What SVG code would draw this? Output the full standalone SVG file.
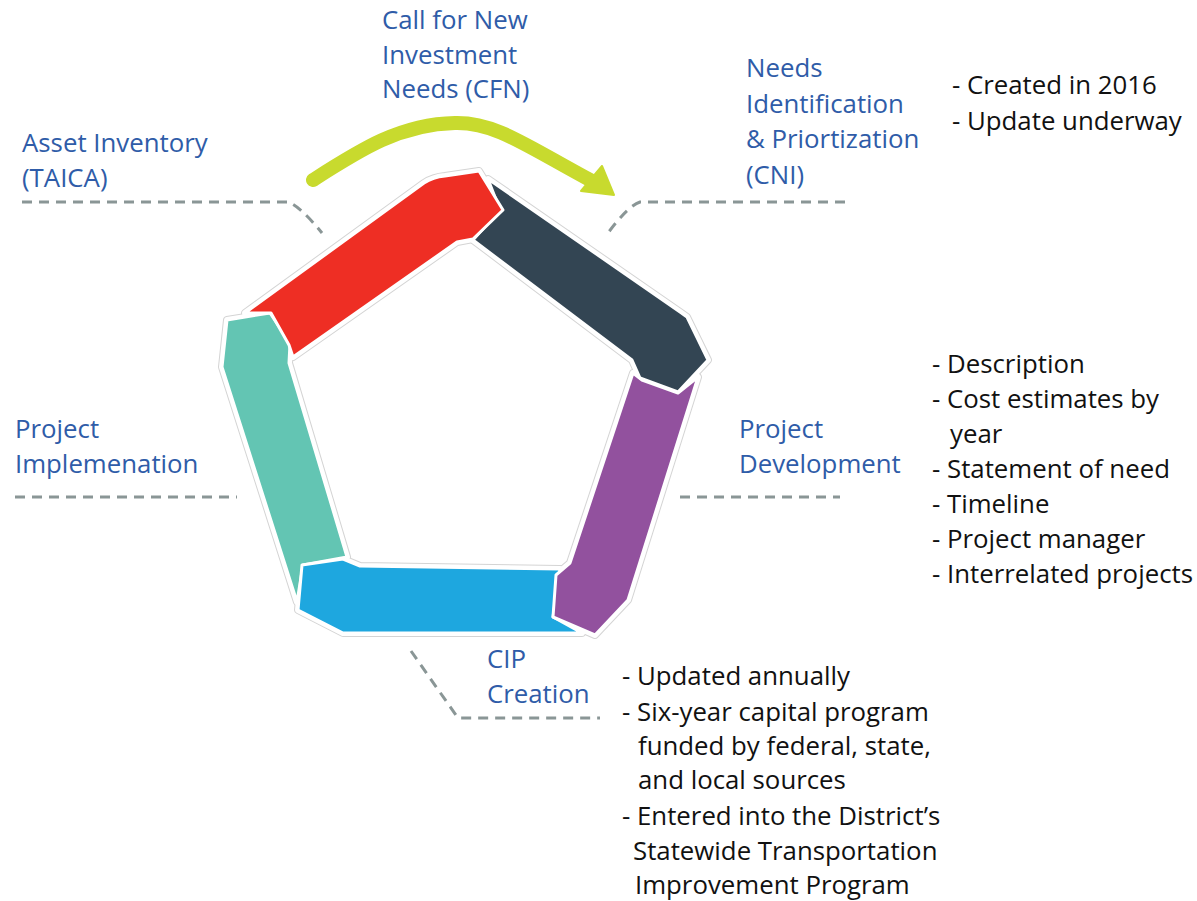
<svg xmlns="http://www.w3.org/2000/svg" width="1197" height="901" viewBox="0 0 1197 901">
<style>
.lbl{font-family:"Open Sans","Liberation Sans",sans-serif;font-size:25.8px;fill:#2f5ca8}
.txt{font-family:"Open Sans","Liberation Sans",sans-serif;font-size:25.8px;fill:#111}
.lead{fill:none;stroke:#8a9696;stroke-width:3;stroke-dasharray:10 7}
.halo{fill:none;stroke:#d4d4d4;stroke-width:8;stroke-linejoin:round}
.gap{fill:none;stroke:#fff;stroke-width:6;stroke-linejoin:round}
.seg{stroke:#fff;stroke-width:3;stroke-linejoin:round}
</style>
<defs>
<polygon id="pTeal" points="227,320 270,313 290,343 289,363 347,557 303,565 297,602 222,367"/>
<polygon id="pBlue" points="302,565 343,559 360,566 560,569 553,617 582,633 343,633 298,610"/>
<polygon id="pPurple" points="633,373 642,380 678,393 698,377 628,600 595,635 553,617 556,575 570,563"/>
<polygon id="pDark" points="488,179 680,312 687,317 708,360 678,392 640,378 632,360 473,240 500,210"/>
<path id="pRed" d="M245,313 L424,183 Q433,177 445,176 L479,171 L503,210 L473,239 L457,242 L293,357 L289,345 L271,313 Z"/>
</defs>
<rect width="1197" height="901" fill="#fff"/>
<g id="connectors">
<path class="lead" d="M22,202 L288,202 Q300,206 322,233"/>
<path class="lead" d="M845,202 L640,202 Q628,206 608,233"/>
<path class="lead" d="M15,497 L237,497"/>
<path class="lead" d="M680,497 L840,497"/>
<path class="lead" d="M411,651 L458,718 L600,718"/>
<path d="M313,180 C360,150 400,124 455,123 C495,122 525,145 592,181" fill="none" stroke="#c8da2e" stroke-width="14" stroke-linecap="round"/>
<polygon points="614,195 602,166 581,191" fill="#c8da2e" stroke="#c8da2e" stroke-width="2" stroke-linejoin="round"/>
</g>
<g id="ring-halo">
<use href="#pTeal" class="halo"/><use href="#pBlue" class="halo"/><use href="#pPurple" class="halo"/><use href="#pDark" class="halo"/><use href="#pRed" class="halo"/>
<use href="#pTeal" class="gap"/><use href="#pBlue" class="gap"/><use href="#pPurple" class="gap"/><use href="#pDark" class="gap"/><use href="#pRed" class="gap"/>
</g>
<g id="seg-teal"><use href="#pTeal" class="seg" fill="#63c5b3"/></g>
<g id="seg-blue"><use href="#pBlue" class="seg" fill="#1ea7df"/></g>
<g id="seg-purple"><use href="#pPurple" class="seg" fill="#92519e"/></g>
<g id="seg-dark"><use href="#pDark" class="seg" fill="#334553"/></g>
<g id="seg-red"><use href="#pRed" class="seg" fill="#ee2e24"/></g>
<g id="node-cfn" class="lbl"><text x="382" y="29">Call for New</text><text x="382" y="63.5">Investment</text><text x="382" y="98">Needs (CFN)</text></g>
<g id="node-asset" class="lbl"><text x="22" y="152">Asset Inventory</text><text x="22" y="186.5">(TAICA)</text></g>
<g id="node-cni" class="lbl"><text x="746" y="77">Needs</text><text x="746" y="112.5">Identification</text><text x="746" y="148">&amp; Priortization</text><text x="746" y="183.5">(CNI)</text></g>
<g id="note-cni" class="txt"><text x="952" y="94">- Created in 2016</text><text x="952" y="130">- Update underway</text></g>
<g id="node-impl" class="lbl"><text x="15" y="438">Project</text><text x="15" y="473">Implemenation</text></g>
<g id="node-dev" class="lbl"><text x="739" y="438">Project</text><text x="739" y="473">Development</text></g>
<g id="note-dev" class="txt"><text x="932" y="373">- Description</text><text x="932" y="408">- Cost estimates by</text><text x="950" y="443">year</text><text x="932" y="478">- Statement of need</text><text x="932" y="513">- Timeline</text><text x="932" y="548">- Project manager</text><text x="932" y="583">- Interrelated projects</text></g>
<g id="node-cip" class="lbl"><text x="487" y="668">CIP</text><text x="487" y="703">Creation</text></g>
<g id="note-cip" class="txt"><text x="622" y="685">- Updated annually</text><text x="622" y="721">- Six-year capital program</text><text x="638" y="755">funded by federal, state,</text><text x="638" y="789">and local sources</text><text x="622" y="825">- Entered into the District’s</text><text x="633" y="860">Statewide Transportation</text><text x="635" y="894">Improvement Program</text></g>
</svg>
